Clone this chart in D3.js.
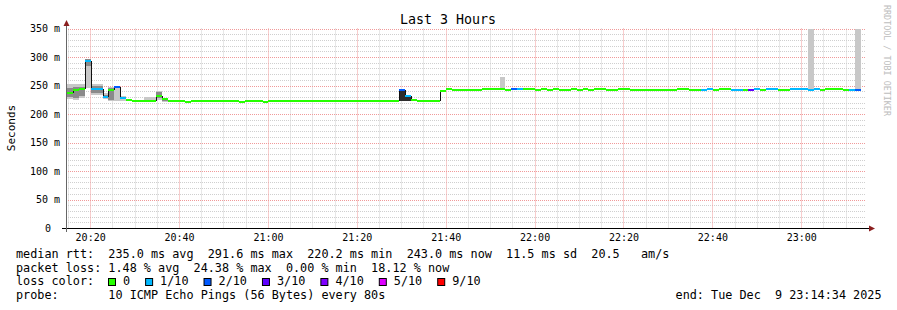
<!DOCTYPE html>
<html>
<head>
<meta charset="utf-8">
<script src="https://cdn.jsdelivr.net/npm/d3@7"></script>
<style>
body{margin:0;background:#fff}
svg text{font-family:"DejaVu Sans Mono",monospace;white-space:pre}
</style>
</head>
<body>
<svg id="chart" width="897" height="310"></svg>
<script>
'use strict';
var parse = d3.timeParse('%Y-%m-%d %H:%M:%S');

// time window and probe steps
var timeWindow = ['2025-12-09 20:14:34', '2025-12-09 23:14:34'];
var firstStep = '2025-12-09 20:14:47';
var stepSeconds = 80;

var yTickValues = [0, 50, 100, 150, 200, 250, 300, 350];

// loss colour legend: pings lost out of 10
var lossLabels = ['0', '1/10', '2/10', '3/10', '4/10', '5/10', '9/10'];
var lossLevels = [0, 1, 2, 3, 4, 5, 9];
var lossColors = ['#26ff00', '#00b8ff', '#0059ff', '#5e00ff', '#7e00ff', '#dd00ff', '#ff0000'];

// median rtt runs: [first step, last step, ms, lost pings]
var medianRuns = [
  [0, 0, 237.5, 0], [1, 1, 241.5, 0], [2, 2, 244, 0], [3, 3, 292.5, 1],
  [4, 5, 244, 1], [6, 6, 230, 1], [7, 7, 242.5, 0], [8, 8, 247, 2],
  [9, 9, 228, 1], [10, 10, 224, 0], [11, 14, 222, 0], [15, 15, 232, 0],
  [16, 16, 226, 0], [17, 19, 222, 0], [20, 20, 220.5, 0], [21, 21, 222, 0],
  [22, 22, 223.5, 0], [23, 25, 222, 0], [26, 27, 223.5, 0], [28, 28, 222, 0],
  [29, 29, 220.5, 0], [30, 32, 222, 0], [33, 33, 220.5, 0], [34, 34, 222, 0],
  [35, 36, 223.5, 0], [37, 39, 222, 0], [40, 42, 223.5, 0], [43, 46, 222, 0],
  [47, 47, 223.5, 0], [48, 49, 222, 0], [50, 50, 223.5, 0], [51, 51, 222, 0],
  [52, 52, 223.5, 0], [53, 54, 222, 0], [55, 55, 223.5, 0], [56, 56, 241.5, 2],
  [57, 57, 231, 1], [58, 58, 224, 0], [59, 59, 222, 0], [60, 62, 223.5, 0],
  [63, 63, 241, 0], [64, 64, 244.5, 0], [65, 69, 242.5, 0], [70, 73, 244.5, 0],
  [74, 74, 242.5, 0], [75, 75, 244, 2], [76, 76, 244, 1], [77, 78, 244.5, 0],
  [79, 79, 242.5, 0], [80, 80, 244.5, 0], [81, 81, 242.5, 0], [82, 82, 244.5, 0],
  [83, 84, 242.5, 0], [85, 85, 244.5, 0], [86, 86, 242.5, 0], [87, 87, 244.5, 0],
  [88, 88, 242.5, 0], [89, 90, 244.5, 0], [91, 92, 242.5, 0], [93, 94, 244.5, 0],
  [95, 102, 242.5, 0], [103, 104, 244.5, 0], [105, 106, 242.5, 0], [107, 107, 242.5, 1],
  [108, 108, 244.5, 1], [109, 109, 242.5, 0], [110, 111, 244.5, 0], [112, 113, 242.5, 1],
  [114, 114, 242.5, 0], [115, 115, 242.5, 3], [116, 116, 244.5, 1], [117, 117, 242.5, 0],
  [118, 119, 244.5, 1], [120, 121, 242.5, 0], [122, 124, 244.5, 1], [125, 125, 242.5, 1],
  [126, 126, 244.5, 1], [127, 127, 242.5, 0], [128, 130, 244.5, 0], [131, 131, 242.5, 0],
  [132, 132, 242.5, 1], [133, 133, 242.5, 2]
];

// smoke (spread of the 10 pings): [step, low ms, high ms]
var smokeOuter = [
  [0, 226, 252], [1, 224, 253], [2, 228, 252], [3, 246, 296], [4, 234, 253],
  [5, 233, 252], [6, 227, 236], [7, 222, 248], [8, 222, 248], [9, 222, 232],
  [13, 222, 230], [14, 222, 230], [15, 224, 241], [16, 221, 228],
  [56, 222, 243], [57, 222, 233], [73, 244, 265], [125, 242, 350], [133, 242, 350]
];
var smokeInner = [
  [0, 229, 246], [1, 228, 248], [2, 231, 247], [3, 284, 296], [4, 237, 250],
  [5, 236, 249], [6, 228, 233], [7, 225, 245], [15, 228, 238], [16, 222, 227]
];
var smokeCore = [[56, 222, 243], [57, 222, 229]];

var titleText = 'Last 3 Hours';
var yTitle = 'Seconds';
var watermark = 'RRDTOOL / TOBI OETIKER';
var statLines = [
  'median rtt:  235.0 ms avg  291.6 ms max  220.2 ms min  243.0 ms now  11.5 ms sd  20.5   am/s',
  'packet loss: 1.48 % avg  24.38 % max  0.00 % min  18.12 % now'
];
var lossTitle = 'loss color:';
var probeText = 'probe:       10 ICMP Echo Pings (56 Bytes) every 80s';
var endText = 'end: Tue Dec  9 23:14:34 2025';

var svg = d3.select('#chart');
var t0 = parse(timeWindow[0]), t1 = parse(timeWindow[1]);
var stepStart = parse(firstStep);
var stepTime = function(k){ return d3.timeSecond.offset(stepStart, k * stepSeconds); };

var x = d3.scaleTime().domain([t0, t1]).range([66, 866]);
var y = d3.scaleLinear().domain([0, 350]).range([228, 28.5]);
var lossColor = d3.scaleThreshold().domain([1, 2, 3, 4, 5, 9]).range(lossColors);
var ySnap = function(v){ return Math.round(y(v)); };

svg.append('rect').attr('width', 897).attr('height', 310).style('fill', '#fff');

// grid
var grid = svg.append('g').attr('id', 'grid').style('stroke-dasharray', '1,1').style('stroke-width', 1);
grid.selectAll('line.hmin').data(d3.range(10, 351, 10).filter(function(v){ return v % 50; }))
  .enter().append('line')
  .attr('x1', 66).attr('x2', 866)
  .attr('y1', function(v){ return ySnap(v) + 0.5; })
  .attr('y2', function(v){ return ySnap(v) + 0.5; })
  .style('stroke', '#cfcfcf');
grid.selectAll('line.vmin').data(d3.timeMinute.every(5).range(t0, t1).filter(function(d){ return d.getMinutes() % 20; }))
  .enter().append('line')
  .attr('y1', 28.5).attr('y2', 228)
  .attr('x1', function(d){ return Math.round(x(d)) + 0.5; })
  .attr('x2', function(d){ return Math.round(x(d)) + 0.5; })
  .style('stroke', '#cfcfcf');
grid.selectAll('line.hmaj').data(yTickValues.slice(1))
  .enter().append('line')
  .attr('x1', 66).attr('x2', 866)
  .attr('y1', function(v){ return ySnap(v) + 0.5; })
  .attr('y2', function(v){ return ySnap(v) + 0.5; })
  .style('stroke', '#f09a9a');
grid.selectAll('line.vmaj').data(x.ticks(d3.timeMinute.every(20)))
  .enter().append('line')
  .attr('y1', 28.5).attr('y2', 228)
  .attr('x1', function(d){ return Math.round(x(d)) + 0.5; })
  .attr('x2', function(d){ return Math.round(x(d)) + 0.5; })
  .style('stroke', '#f09a9a');

// smoke
var plot = svg.append('g').attr('id', 'plotWin');
var drawSmoke = function(rows, color){
  plot.append('g').selectAll('rect').data(rows).enter().append('rect')
    .attr('x', function(d){ return x(stepTime(d[0])); })
    .attr('width', function(d){ return x(stepTime(d[0] + 1)) - x(stepTime(d[0])); })
    .attr('y', function(d){ return y(d[2]); })
    .attr('height', function(d){ return y(d[1]) - y(d[2]); })
    .style('fill', color).attr('shape-rendering', 'crispEdges');
};
drawSmoke(smokeOuter, '#c8c8c8');
drawSmoke(smokeInner, '#8a8a8a');
drawSmoke(smokeCore, '#2e2e2e');

// median: dark risers where the median jumps, loss coloured steps on top
var risers = d3.pairs(medianRuns).filter(function(p){ return Math.abs(ySnap(p[0][2]) - ySnap(p[1][2])) > 2; });
plot.append('g').selectAll('line').data(risers).enter().append('line')
  .attr('x1', function(p){ return Math.round(x(stepTime(p[1][0]))) + 0.5; })
  .attr('x2', function(p){ return Math.round(x(stepTime(p[1][0]))) + 0.5; })
  .attr('y1', function(p){ return ySnap(p[0][2]); })
  .attr('y2', function(p){ return ySnap(p[1][2]); })
  .style('stroke', '#111').style('stroke-width', 1);
plot.append('g').selectAll('line').data(medianRuns).enter().append('line')
  .attr('x1', function(r){ return x(stepTime(r[0])); })
  .attr('x2', function(r){ return x(stepTime(r[1] + 1)); })
  .attr('y1', function(r){ return ySnap(r[2]); })
  .attr('y2', function(r){ return ySnap(r[2]); })
  .style('stroke', function(r){ return lossColor(r[3]); })
  .style('stroke-width', 2).attr('shape-rendering', 'crispEdges');

// axes
var xAxis = d3.axisBottom(x).ticks(d3.timeMinute.every(20)).tickFormat(d3.timeFormat('%H:%M')).tickSize(0).tickPadding(6);
var gx = svg.append('g').attr('transform', 'translate(0,228)').call(xAxis);
gx.select('.domain').remove();
gx.selectAll('text').style('font-family', '"DejaVu Sans Mono",monospace').style('font-size', '10px').style('fill', '#000');

var yAxis = d3.axisLeft(y).tickValues(yTickValues)
  .tickFormat(function(v){ return v === 0 ? '0' : v + ' m'; }).tickSize(0).tickPadding(6);
var gy = svg.append('g').attr('transform', 'translate(66,0)').call(yAxis);
gy.select('.domain').remove();
gy.selectAll('text').style('font-family', '"DejaVu Sans Mono",monospace').style('font-size', '10px').style('fill', '#000')
  .attr('x', function(v){ return v === 0 ? -15 : -6; });

svg.append('line').attr('x1', 62).attr('x2', 870).attr('y1', 228.5).attr('y2', 228.5).style('stroke', '#000');
svg.append('line').attr('x1', 66.5).attr('x2', 66.5).attr('y1', 232).attr('y2', 25).style('stroke', '#666');
svg.append('path').attr('d', 'M869,225.5L875,228.5L869,231.5Z').style('fill', '#8b1f1f');
svg.append('path').attr('d', 'M63.5,26L66.5,20L69.5,26Z').style('fill', '#8b1f1f');

// titles
svg.append('text').attr('x', 448).attr('y', 24).attr('text-anchor', 'middle')
  .style('font-size', '13.3px').text(titleText);
svg.append('text').attr('transform', 'translate(15,128) rotate(-90)').attr('text-anchor', 'middle')
  .style('font-size', '11px').text(yTitle);
svg.append('text').attr('transform', 'translate(884,5) rotate(90)')
  .style('font-size', '8.4px').style('fill', '#bdbdbd').text(watermark);

// legend
var legend = svg.append('g').attr('id', 'legend').style('font-size', '11.8px');
legend.selectAll('text.stat').data(statLines).enter().append('text')
  .attr('x', 16).attr('y', function(d, i){ return 258 + i * 13.5; }).text(function(d){ return d; });
legend.append('text').attr('x', 16).attr('y', 285).text(lossTitle);
var cursor = 108;
lossLabels.forEach(function(lbl, i){
  legend.append('rect').attr('x', cursor + 0.5).attr('y', 278.5).attr('width', 7).attr('height', 7)
    .style('fill', lossColor(lossLevels[i])).style('stroke', '#000');
  var t = legend.append('text').attr('x', cursor + 15).attr('y', 285).text(lbl);
  cursor = cursor + 15 + t.node().getComputedTextLength() + 15;
});
legend.append('text').attr('x', 16).attr('y', 298.5).text(probeText);
legend.append('text').attr('x', 881.5).attr('y', 298.5).attr('text-anchor', 'end').text(endText);
</script>
</body>
</html>
